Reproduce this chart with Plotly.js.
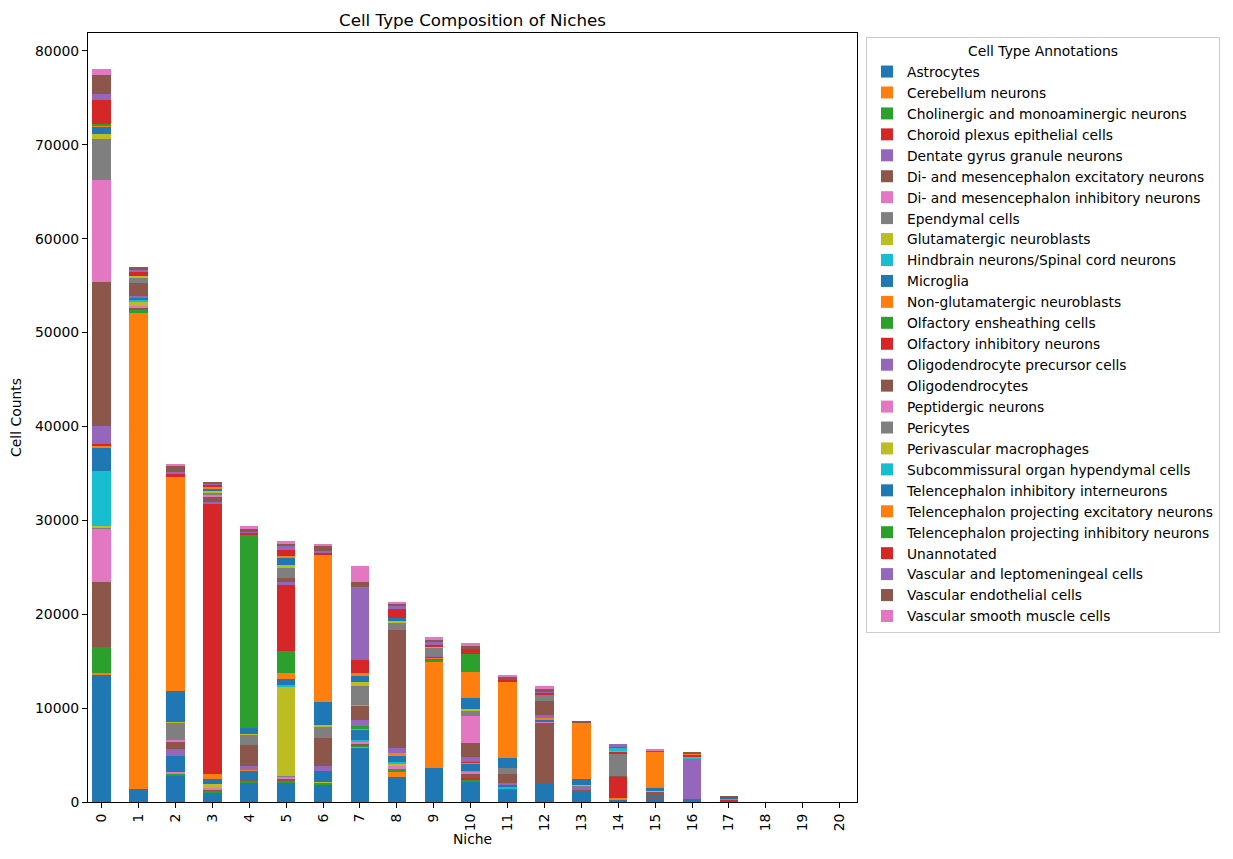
<!DOCTYPE html>
<html>
<head>
<meta charset="utf-8">
<script src="https://cdn.plot.ly/plotly-3.0.1.min.js"></script>
<style>html,body{margin:0;padding:0;background:#fff;}#chart{width:1233px;height:859px;}</style>
</head>
<body>
<div id="chart"></div>
<script>
const niches = ['0','1','2','3','4','5','6','7','8','9','10','11','12','13','14','15','16','17','18','19','20'];
const cellTypes = ['Astrocytes','Cerebellum neurons','Cholinergic and monoaminergic neurons','Choroid plexus epithelial cells','Dentate gyrus granule neurons','Di- and mesencephalon excitatory neurons','Di- and mesencephalon inhibitory neurons','Ependymal cells','Glutamatergic neuroblasts','Hindbrain neurons/Spinal cord neurons','Microglia','Non-glutamatergic neuroblasts','Olfactory ensheathing cells','Olfactory inhibitory neurons','Oligodendrocyte precursor cells','Oligodendrocytes','Peptidergic neurons','Pericytes','Perivascular macrophages','Subcommissural organ hypendymal cells','Telencephalon inhibitory interneurons','Telencephalon projecting excitatory neurons','Telencephalon projecting inhibitory neurons','Unannotated','Vascular and leptomeningeal cells','Vascular endothelial cells','Vascular smooth muscle cells'];

const astrocytes   = [13620,1380,2870,920,1990,2060,1880,5780,2660,3620,2160,1330,1990,1060,280,260,320,40,0,0,0];
const cerebellum   = [150,50650,0,0,0,0,0,100,640,11390,0,0,0,0,140,0,0,0,0,0,0];
const cholinergic  = [2770,320,180,280,250,210,180,140,210,140,210,140,0,0,0,0,0,60,0,0,0];
const choroid      = [0,0,0,0,0,0,0,0,0,0,210,0,0,0,2270,0,0,150,0,0,0];
const dentate      = [0,0,0,0,0,0,0,0,0,0,0,0,0,0,0,0,4260,0,0,0,0];
const diMesExc     = [6900,350,0,180,100,180,0,140,0,0,390,0,6460,320,100,210,0,0,0,0,0];
const diMesInh     = [5640,100,180,140,0,250,0,250,320,0,250,0,100,0,0,0,0,0,0,0,0];
const ependymal    = [170,0,0,0,0,100,0,0,0,0,0,0,0,0,2410,0,0,0,0,0,0];
const glutNeuro    = [100,530,0,425,0,9540,100,0,320,0,0,0,0,0,0,0,0,0,0,0,0];
const hindbrain    = [5950,200,0,0,0,100,0,180,100,0,100,100,0,0,0,0,170,80,0,0,0];
const microglia    = [2450,170,1670,500,990,640,1130,1130,745,140,745,250,250,0,0,210,0,0,0,0,0];
const nonGlutNeuro = [250,0,0,530,110,640,0,140,210,100,100,0,140,0,0,0,140,0,0,0,0];
const olfEnsheath  = [0,0,0,0,0,2340,0,210,0,0,0,0,0,0,0,0,0,0,0,0,0];
const olfInhib     = [80,0,0,28730,0,7130,0,0,0,100,100,0,0,0,180,0,140,0,0,0,0];
const opc          = [2000,170,745,250,425,210,530,640,530,140,500,230,320,100,0,0,0,0,0,0,0];
const oligo        = [15320,1450,850,600,2230,425,2980,1530,12550,0,1490,920,1490,0,0,390,0,0,0,0,0];
const peptidergic  = [10850,0,100,110,0,0,0,100,0,0,2870,0,0,0,100,0,0,0,0,0,0];
const pericytes    = [4360,530,1840,320,1060,1060,1280,1990,850,780,640,670,745,320,0,0,0,0,0,0,0];
const perivascular = [530,130,100,110,110,320,100,425,100,100,100,0,0,60,0,170,0,0,0,0,0];
const sco          = [0,0,0,0,0,0,0,0,0,0,0,0,0,0,320,0,0,60,0,0,0];
const telInhInter  = [850,0,3260,280,600,850,2450,745,320,0,1170,1060,0,640,140,210,0,50,0,0,0];
const telProjExc   = [100,0,22770,140,0,100,15750,210,0,0,2770,8090,0,5960,0,3970,140,0,0,0,0];
const telProjInh   = [150,0,0,0,20570,0,0,0,0,0,1920,0,0,0,0,0,0,0,0,0,0];
const unannotated  = [2500,500,425,320,250,640,210,1380,1060,180,530,210,140,0,0,0,0,120,0,0,0];
const vlmc         = [640,180,140,70,70,425,100,7770,210,425,0,0,100,0,210,0,0,0,0,0,0];
const vascEndo     = [2020,370,670,140,350,320,640,530,320,210,320,320,390,210,0,100,140,40,0,0,0];
const vsmc         = [640,0,250,0,250,210,140,1700,100,210,320,100,210,0,0,80,0,0,0,0,0];

const series = [astrocytes,cerebellum,cholinergic,choroid,dentate,diMesExc,diMesInh,ependymal,glutNeuro,hindbrain,microglia,nonGlutNeuro,olfEnsheath,olfInhib,opc,oligo,peptidergic,pericytes,perivascular,sco,telInhInter,telProjExc,telProjInh,unannotated,vlmc,vascEndo,vsmc];
const tab10 = ['#1f77b4','#ff7f0e','#2ca02c','#d62728','#9467bd','#8c564b','#e377c2','#7f7f7f','#bcbd22','#17becf'];

const traces = cellTypes.map((name, i) => ({
  type: 'bar',
  name: name,
  x: niches.map((n, k) => k),
  y: series[i],
  width: 0.5,
  marker: {color: tab10[i % 10], line: {width: 0}},
  hovertemplate: name + '<br>Niche %{x}: %{y}<extra></extra>'
}));

const font = {family: 'DejaVu Sans, sans-serif', size: 13.9, color: '#000'};
const layout = {
  width: 1233, height: 859,
  barmode: 'stack',
  bargap: 0,
  paper_bgcolor: '#fff', plot_bgcolor: '#fff',
  font: font,
  margin: {l: 88, r: 376, t: 33, b: 57, pad: 0},
  title: {text: 'Cell Type Composition of Niches', font: {family: 'DejaVu Sans, sans-serif', size: 16.7, color: '#000'}, x: 0.5, xref: 'paper', xanchor: 'center', y: 1, yref: 'paper', yanchor: 'bottom', pad: {b: 7}},
  xaxis: {
    range: [-0.37, 20.47],
    tickmode: 'array', tickvals: niches.map((n, k) => k), ticktext: niches,
    tickangle: -90,
    ticks: 'outside', ticklen: 5, tickwidth: 1, tickcolor: '#000',
    showline: true, mirror: true, linecolor: '#000', linewidth: 1,
    showgrid: false, zeroline: false,
    tickfont: font,
    title: {text: 'Niche', font: font, standoff: 4}
  },
  yaxis: {
    range: [0, 81900],
    tickmode: 'array', tickvals: [0,10000,20000,30000,40000,50000,60000,70000,80000],
    ticktext: ['0','10000','20000','30000','40000','50000','60000','70000','80000'],
    ticks: 'outside', ticklen: 5, tickwidth: 1, tickcolor: '#000',
    showline: true, mirror: true, linecolor: '#000', linewidth: 1,
    showgrid: false, zeroline: false,
    tickfont: font,
    title: {text: 'Cell Counts', font: font, standoff: 10}
  },
  legend: {
    x: 1.0117, y: 0.9948, xanchor: 'left', yanchor: 'top',
    xref: 'paper', yref: 'paper',
    traceorder: 'normal',
    bgcolor: 'rgba(255,255,255,0.8)', bordercolor: '#cccccc', borderwidth: 1,
    font: {family: 'DejaVu Sans, sans-serif', size: 13.8, color: '#000'},
    title: {text: 'Cell Type Annotations', side: 'top center', font: {family: 'DejaVu Sans, sans-serif', size: 13.9, color: '#000'}},
    itemwidth: 30, tracegroupgap: 0
  },
  showlegend: true
};

Plotly.newPlot('chart', traces, layout, {displayModeBar: false, responsive: false});
</script>
</body>
</html>
